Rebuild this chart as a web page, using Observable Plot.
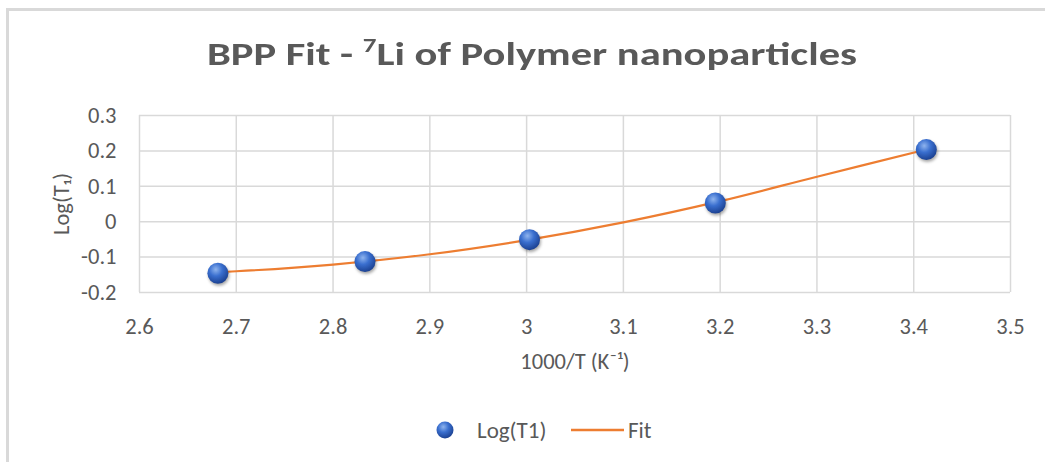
<!DOCTYPE html>
<html>
<head>
<meta charset="utf-8">
<script src="https://cdn.jsdelivr.net/npm/d3@7"></script>
<script src="https://cdn.jsdelivr.net/npm/@observablehq/plot@0.6"></script>
<style>
  html, body { margin: 0; padding: 0; background: #fff; }
  body { width: 1045px; height: 462px; position: relative; overflow: hidden;
         font-family: "Carlito", "Liberation Sans Narrow", "Open Sans", sans-serif; }
  #frame { position: absolute; left: 6px; top: 8px; right: 0; bottom: 0;
           border-top: 3px solid #d9d9d9; border-left: 3px solid #d9d9d9; }
  #title { position: absolute; left: 0; width: 1064px; top: 34px; text-align: center; line-height: 40px;
           font-family: "Carlito", "Open Sans", sans-serif; font-weight: 700; font-size: 33px; color: #595959;
           transform: scaleX(1.29); transform-origin: 532px 50%; }
  #title sup { font-size: 21px; vertical-align: 13px; line-height: 0; }
  #chart { position: absolute; left: 0; top: 0; }
  #legend { position: absolute; top: 418px; left: 0; width: 1045px; height: 24px;
            font-family: "Carlito", "Open Sans", sans-serif; font-size: 23px; color: #595959; }
  #legend .item { position: absolute; top: 0; display: flex; align-items: center; height: 24px; }
</style>
</head>
<body>
<div id="frame"></div>
<div id="chart"></div>
<div id="title">BPP Fit - <sup>7</sup>Li of Polymer nanoparticles</div>
<div id="legend">
  <div class="item" style="left:436px">
    <svg width="18" height="18" style="margin-right:23px"><defs>
      <radialGradient id="lg" cx="40%" cy="32%" r="70%">
        <stop offset="0%" stop-color="#8fb4ee"/><stop offset="45%" stop-color="#3a6fcf"/><stop offset="100%" stop-color="#1a3f8f"/>
      </radialGradient></defs><circle cx="9" cy="9" r="8.5" fill="url(#lg)"/></svg>
    <span>Log(T1)</span>
  </div>
  <div class="item" style="left:571px">
    <svg width="53" height="4" style="margin-right:4px"><line x1="0" y1="2" x2="53" y2="2" stroke="#ED7D31" stroke-width="2.5"/></svg>
    <span>Fit</span>
  </div>
</div>
<script>
// Measured data: 1000/T (K^-1) vs Log(T1)
const invT = [2.681, 2.833, 3.003, 3.195, 3.413];
const logT1 = [-0.1456, -0.1127, -0.0507, 0.0527, 0.2037];

// BPP fit curve
const fitX = [2.681, 2.7, 2.8, 2.9, 3.0, 3.1, 3.2, 3.3, 3.413];
const fitY = [-0.142, -0.140, -0.121, -0.092, -0.052, -0.002, 0.058, 0.127, 0.204];

const xTicks = [2.6, 2.7, 2.8, 2.9, 3.0, 3.1, 3.2, 3.3, 3.4, 3.5];
const yTicks = [-0.2, -0.1, 0, 0.1, 0.2, 0.3];

const points = invT.map((x, i) => ({x, y: logT1[i]}));
const fit = fitX.map((x, i) => ({x, y: fitY[i]}));
const fmt = d => String(+d.toFixed(1));
const FONT = '"Carlito", "Liberation Sans Narrow", "Open Sans", sans-serif';

const plot = Plot.plot({
  width: 1045,
  height: 380,
  marginLeft: 139,
  marginRight: 35,
  marginTop: 115,
  marginBottom: 88,
  style: { fontFamily: FONT, fontSize: "23px", color: "#595959", background: "transparent" },
  x: { domain: [2.6, 3.5] },
  y: { domain: [-0.2, 0.3] },
  marks: [
    Plot.gridX(xTicks, { stroke: "#d9d9d9", strokeOpacity: 1, strokeWidth: 1.5 }),
    Plot.gridY(yTicks, { stroke: "#d9d9d9", strokeOpacity: 1, strokeWidth: 1.5 }),
    Plot.axisX(xTicks, { tickSize: 0, tickPadding: 26, tickFormat: fmt, fontSize: 22.5, fill: "#595959",
      label: "1000/T (K⁻¹)", labelAnchor: "center", labelArrow: "none", labelOffset: 76 }),
    Plot.axisY(yTicks, { tickSize: 0, tickPadding: 23, tickFormat: fmt, fontSize: 22.5, fill: "#595959",
      label: "Log(T₁)", labelAnchor: "center", labelArrow: "none", labelOffset: 86 }),
    Plot.line(fit, { x: "x", y: "y", stroke: "#ED7D31", strokeWidth: 2.2, curve: "catmull-rom" }),
    Plot.dot(points, { x: "x", y: "y", r: 10.5, fill: "url(#sphere)", stroke: "none", className: "spheres" })
  ]
});

const defs = d3.select(plot).insert("defs", ":first-child");
const g = defs.append("radialGradient").attr("id", "sphere").attr("cx", "40%").attr("cy", "32%").attr("r", "70%");
g.append("stop").attr("offset", "0%").attr("stop-color", "#8fb4ee");
g.append("stop").attr("offset", "45%").attr("stop-color", "#3a6fcf");
g.append("stop").attr("offset", "100%").attr("stop-color", "#1a3f8f");
d3.select(plot).selectAll("g.spheres").style("filter", "drop-shadow(1px 2px 1.5px rgba(0,0,0,0.35))");

document.getElementById("chart").appendChild(plot);
</script>
</body>
</html>
